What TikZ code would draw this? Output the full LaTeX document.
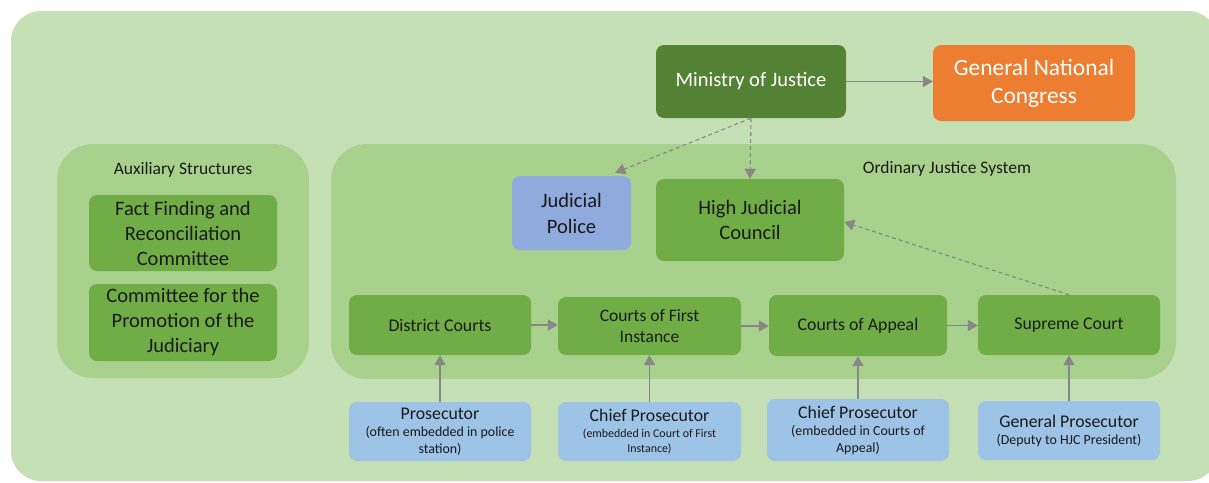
\documentclass[tikz,border=0pt]{standalone}
\usepackage{fontspec}
\setmainfont{Carlito}
\usetikzlibrary{arrows.meta}

\definecolor{bgouter}{HTML}{C5E0B4}
\definecolor{bginner}{HTML}{A9D18E}
\definecolor{boxgreen}{HTML}{70AD47}
\definecolor{darkgreen}{HTML}{548235}
\definecolor{congress}{HTML}{ED7D31}
\definecolor{police}{HTML}{8FAADC}
\definecolor{prosec}{HTML}{9DC3E6}
\definecolor{linkgray}{HTML}{878787}
\definecolor{txt}{HTML}{1A1A1A}

\newcommand{\fsz}[2]{\fontsize{#1}{#2}\selectfont}

\begin{document}
\begin{tikzpicture}[x=1pt,y=-1pt,
  box/.style={rounded corners=8pt, inner sep=0pt, align=center, text=txt},
  greenbox/.style={box, fill=boxgreen},
  bluebox/.style={box, fill=prosec, font=\fsz{13.9}{17}},
  group/.style={fill=bginner, rounded corners=36pt, inner sep=0pt},
  grouplabel/.style={inner sep=0pt, text=txt, font=\fsz{17.5}{21}},
  link/.style={draw=linkgray, line width=1.4pt, -{Triangle[length=10pt,width=11pt]}},
  dashlink/.style={link, line width=1.1pt, dash pattern=on 4pt off 3pt}
]
\useasboundingbox (0,0) rectangle (1209,482);

% background panel
\fill[bgouter, rounded corners=30pt] (11,11) rectangle (1218,481);

% grouping panels
\node[group, minimum width=252pt, minimum height=234pt] (aux) at (183,261) {};
\node[grouplabel] (auxlabel) at (183,169.5) {Auxiliary Structures};
\node[group, minimum width=845pt, minimum height=235pt] (ojs) at (753.5,261.5) {};
\node[grouplabel] (ojslabel) at (947,168.5) {Ordinary Justice System};

% top level
\node[box, fill=darkgreen, text=white, font=\fsz{20.5}{25},
      minimum width=190pt, minimum height=73pt] (moj) at (751,81.5) {Ministry of Justice};
\node[box, fill=congress, text=white, font=\fsz{23.4}{28},
      minimum width=202pt, minimum height=76pt] (gnc) at (1034,83) {General National\\Congress};

% auxiliary structures
\node[greenbox, font=\fsz{20.5}{25}, minimum width=188pt, minimum height=76pt] (ffrc) at (183,233)
  {Fact Finding and\\Reconciliation\\Committee};
\node[greenbox, font=\fsz{20.5}{25}, minimum width=188pt, minimum height=77pt] (cpj) at (183,322.5)
  {Committee for the\\Promotion of the\\Judiciary};

% ordinary justice system
\node[box, fill=police, font=\fsz{20.5}{26}, minimum width=119pt, minimum height=74pt] (police) at (571.5,213)
  {Judicial\\Police};
\node[greenbox, font=\fsz{20.5}{25}, minimum width=188pt, minimum height=82pt] (hjc) at (750,220)
  {High Judicial\\Council};

\node[greenbox, font=\fsz{17.8}{21}, minimum width=182pt, minimum height=60pt] (dc) at (440,325)
  {District Courts};
\node[greenbox, font=\fsz{17.5}{21}, minimum width=183pt, minimum height=58pt] (cfi) at (649.5,326)
  {Courts of First\\Instance};
\node[greenbox, font=\fsz{17.8}{21}, minimum width=178pt, minimum height=61pt] (ca) at (858,325.5)
  {Courts of Appeal};
\node[greenbox, font=\fsz{17.8}{21}, minimum width=182pt, minimum height=60pt] (sc) at (1069,325)
  {Supreme Court};

% prosecution offices
\node[bluebox, minimum width=182pt, minimum height=59pt] (p1) at (440,431.5)
  {{\fsz{17.8}{21}Prosecutor}\\(often embedded in police\\station)};
\node[bluebox, font=\fsz{11.9}{14.5}, minimum width=183pt, minimum height=59pt] (p2) at (649.5,431.5)
  {{\fsz{17.8}{21}Chief Prosecutor}\\[1.5pt](embedded in Court of First\\Instance)};
\node[bluebox, minimum width=182pt, minimum height=62pt] (p3) at (858,430)
  {{\fsz{17.8}{21}Chief Prosecutor}\\(embedded in Courts of\\Appeal)};
\node[bluebox, minimum width=182pt, minimum height=59pt] (p4) at (1069,430.5)
  {{\fsz{17.8}{21}General Prosecutor}\\(Deputy to HJC President)};

% connectors
\draw[link] (moj.east) -- (gnc.west |- moj.east);
\draw[dashlink] (moj.south) -- ([xshift=-16pt,yshift=3pt]police.north east);
\draw[dashlink] (moj.south) -- (hjc.north);
\draw[dashlink] (sc.north) -- ([yshift=-2pt]hjc.east);

\draw[link] (dc.east) -- (cfi.west |- dc.east);
\draw[link] (cfi.east) -- (ca.west |- cfi.east);
\draw[link] (ca.east) -- (sc.west |- ca.east);

\draw[link] (p1.north) -- (dc.south);
\draw[link] (p2.north) -- (cfi.south);
\draw[link] (p3.north) -- (ca.south);
\draw[link] (p4.north) -- (sc.south);
\end{tikzpicture}
\end{document}
